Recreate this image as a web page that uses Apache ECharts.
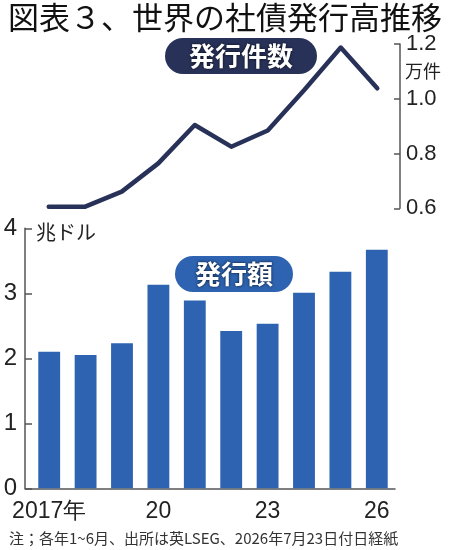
<!DOCTYPE html>
<html><head><meta charset="utf-8">
<style>html,body{margin:0;padding:0;background:#fff}#c{width:450px;height:550px}</style>
<script src="https://cdn.jsdelivr.net/npm/echarts@6/dist/echarts.min.js"></script>
</head><body><div id="c"></div>
<script>
const years = ['2017','2018','2019','2020','2021','2022','2023','2024','2025','2026'];
const xTickLabels = ['2017年','','','20','','','23','','','26'];
const issueCount = [0.606,0.606,0.661,0.764,0.904,0.825,0.884,1.032,1.187,1.038];
const issueAmount = [2.10,2.05,2.23,3.13,2.89,2.42,2.53,3.01,3.33,3.67];
const countTicks = {min:0.6,max:1.2,interval:0.2};
const amountTicks = {min:0,max:4,interval:1};

const JP = '"Noto Sans CJK JP", sans-serif';
const NUM = '"Liberation Sans", sans-serif';
const axisColor = '#555';

const chart = echarts.init(document.getElementById('c'), null, {renderer:'canvas'});
chart.setOption({
  animation:false,
  backgroundColor:'#fff',
  title:[
    {text:'図表３、世界の社債発行高推移', left:3, top:-3, textStyle:{fontFamily:JP, fontSize:31, fontWeight:'normal', color:'#111'}},
    {text:'発行件数', left:165, top:38, padding:[3,24], backgroundColor:'#283259', borderRadius:18,
      textStyle:{fontFamily:JP, fontSize:26, lineHeight:30, fontWeight:'bold', color:'#fff', textShadowColor:'rgba(0,0,0,0.8)', textShadowBlur:3}},
    {text:'発行額', left:175, top:256, padding:[3,20], backgroundColor:'#2d63b0', borderRadius:18,
      textStyle:{fontFamily:JP, fontSize:26, lineHeight:30, fontWeight:'bold', color:'#fff', textShadowColor:'rgba(0,0,0,0.8)', textShadowBlur:3}},
    {text:'万件', left:405, top:62, padding:0, textStyle:{fontFamily:JP, fontSize:18, fontWeight:'normal', color:'#222'}},
    {text:'兆ドル', left:36, top:222, padding:0, textStyle:{fontFamily:JP, fontSize:20, fontWeight:'normal', color:'#222'}},
    {text:'注；各年1~6月、出所は英LSEG、2026年7月23日付日経紙', left:9, top:531, padding:0, textStyle:{fontFamily:JP, fontSize:15, fontWeight:'normal', color:'#333'}}
  ],
  grid:[
    {left:30.5, right:54.5, top:44, height:164.3},
    {left:25, right:55, top:228.3, height:260},
    {left:31, right:55, top:228.3, height:260}
  ],
  xAxis:[
    {gridIndex:0, type:'category', data:years, boundaryGap:true, show:false},
    {gridIndex:1, type:'value', min:0, max:1, axisLine:{show:true, lineStyle:{color:axisColor, width:1.5}}, axisTick:{show:false}, axisLabel:{show:false}, splitLine:{show:false}},
    {gridIndex:2, type:'category', data:years, boundaryGap:true,
      axisLine:{show:false}, axisTick:{show:false},
      axisLabel:{interval:0, margin:12, fontFamily:NUM, fontSize:23, color:'#222', formatter:(v,i)=>xTickLabels[i]}}
  ],
  yAxis:[
    {gridIndex:0, type:'value', position:'right', offset:4.5, min:countTicks.min, max:countTicks.max, interval:countTicks.interval,
      axisLine:{show:true, lineStyle:{color:axisColor, width:1.5}},
      axisTick:{show:true, inside:true, length:6, lineStyle:{color:axisColor, width:1.5}},
      axisLabel:{margin:6, fontFamily:NUM, fontSize:22, color:'#222', formatter:v=>v.toFixed(1)},
      splitLine:{show:false}},
    {gridIndex:1, type:'value', min:amountTicks.min, max:amountTicks.max, interval:amountTicks.interval,
      axisLine:{show:true, lineStyle:{color:axisColor, width:1.5}},
      axisTick:{show:true, inside:true, length:7, lineStyle:{color:axisColor, width:1.5}},
      axisLabel:{margin:8, fontFamily:NUM, fontSize:24, color:'#222'},
      splitLine:{show:false}},
    {gridIndex:2, type:'value', min:amountTicks.min, max:amountTicks.max, show:false}
  ],
  series:[
    {type:'line', xAxisIndex:0, yAxisIndex:0, data:issueCount, symbol:'none',
      lineStyle:{color:'#283259', width:4.5, join:'round', cap:'round'}},
    {type:'bar', xAxisIndex:2, yAxisIndex:2, data:issueAmount, barWidth:'60%',
      itemStyle:{color:'#2d63b0'}}
  ]
});
</script></body></html>
